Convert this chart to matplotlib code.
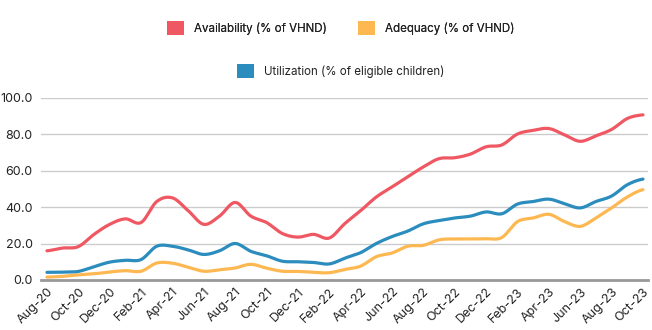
import numpy as np
import matplotlib.pyplot as plt
from matplotlib.patches import Patch

plt.rcParams['font.family'] = ['Inter', 'DejaVu Sans']

months = ["Aug-20", "Sep-20", "Oct-20", "Nov-20", "Dec-20", "Jan-21", "Feb-21", "Mar-21",
          "Apr-21", "May-21", "Jun-21", "Jul-21", "Aug-21", "Sep-21", "Oct-21", "Nov-21",
          "Dec-21", "Jan-22", "Feb-22", "Mar-22", "Apr-22", "May-22", "Jun-22", "Jul-22",
          "Aug-22", "Sep-22", "Oct-22", "Nov-22", "Dec-22", "Jan-23", "Feb-23", "Mar-23",
          "Apr-23", "May-23", "Jun-23", "Jul-23", "Aug-23", "Sep-23", "Oct-23"]

availability = [16, 17.5, 18.3, 25, 30.5, 33.5, 31.5, 43, 45, 38, 30.5, 35, 42.5, 35,
                31.5, 25.5, 23.5, 25, 23, 31, 38, 45.5, 51, 56.5, 62, 66.5, 67, 69, 73,
                74, 80, 82, 83, 79.5, 76, 79, 82.5, 88.5, 90.5]
adequacy = [1.6, 2, 2.8, 3.4, 4.4, 5.1, 4.8, 9.3, 9.2, 7, 4.8, 5.6, 6.6, 8.6, 6.5, 4.8,
            4.7, 4.2, 4, 5.8, 7.6, 12.8, 14.8, 18.5, 19, 22, 22.5, 22.5, 22.6, 23.3, 32,
            34, 36, 32, 29.4, 34, 39.5, 45.5, 49.5]
utilization = [4.2, 4.3, 4.7, 7.3, 9.8, 10.8, 11.2, 18.5, 18.5, 16.5, 14, 16, 20, 15.7,
               13.3, 10.3, 10, 9.6, 8.8, 12, 15, 20, 23.8, 26.8, 30.8, 32.6, 34, 35, 37.3,
               36.3, 41.6, 43, 44.3, 41.8, 39.5, 43, 46, 52.2, 55.3]

RED = "#EF5863"
YELLOW = "#FDB851"
BLUE = "#2B8CBE"


def smooth(values, n=12):
    # Catmull-Rom curve through the monthly points
    y = np.asarray(values, dtype=float)
    x = np.arange(len(y), dtype=float)
    yp = np.concatenate([[y[0]], y, [y[-1]]])
    xs, ys = [], []
    t = np.linspace(0, 1, n, endpoint=False)
    for i in range(len(y) - 1):
        p0, p1, p2, p3 = yp[i], yp[i + 1], yp[i + 2], yp[i + 3]
        seg = 0.5 * ((2 * p1) + (-p0 + p2) * t + (2 * p0 - 5 * p1 + 4 * p2 - p3) * t ** 2
                     + (-p0 + 3 * p1 - 3 * p2 + p3) * t ** 3)
        xs.append(x[i] + t)
        ys.append(seg)
    xs.append([x[-1]])
    ys.append([y[-1]])
    return np.concatenate(xs), np.concatenate(ys)


fig = plt.figure(figsize=(6.52, 3.30), dpi=100)
ax = fig.add_axes([41 / 652, 1 - 280 / 330, 607 / 652, (280 - 97.5) / 330])

for vals, col in [(availability, RED), (adequacy, YELLOW), (utilization, BLUE)]:
    sx, sy = smooth(vals)
    ax.plot(sx, sy, color=col, linewidth=2.3, solid_capstyle='round', zorder=3)

ax.set_ylim(0, 100)
ax.set_xlim(-0.38, 38.32)
ax.set_yticks(np.arange(0, 101, 20))
ax.set_yticklabels([f"{v:.1f}" for v in np.arange(0, 101, 20)])
idx = np.arange(0, len(months), 2)
ax.set_xticks(idx)
ax.set_xticklabels([months[i] for i in idx], rotation=45, ha='right', rotation_mode='anchor')
ax.tick_params(axis='both', length=0, labelsize=9, colors='#222222')
ax.tick_params(axis='y', pad=6)
ax.tick_params(axis='x', pad=4)
ax.grid(axis='y', color='#cccccc', linewidth=1)
ax.set_axisbelow(True)
for s in ['top', 'right', 'left']:
    ax.spines[s].set_visible(False)
ax.spines['bottom'].set_color('#999999')
ax.spines['bottom'].set_linewidth(2)
ax.spines['bottom'].set_zorder(4)

leg_kw = dict(loc='center', frameon=False, fontsize=8.3, handlelength=1.45, handleheight=1.45,
              handletextpad=0.9, labelcolor='#222222', borderpad=0, borderaxespad=0)
cx = 341 / 652
h1 = [Patch(facecolor=RED, edgecolor='none'), Patch(facecolor=YELLOW, edgecolor='none')]
leg1 = fig.legend(h1, ["Availability (% of VHND)", "Adequacy (% of VHND)"], ncol=2,
                  bbox_to_anchor=(cx, 0.915), columnspacing=2.7, **leg_kw)
fig.legend([Patch(facecolor=BLUE, edgecolor='none')], ["Utilization (% of eligible children)"],
           bbox_to_anchor=(cx, 0.785), **leg_kw)
fig.add_artist(leg1)

fig.savefig("out.png", dpi=100)
